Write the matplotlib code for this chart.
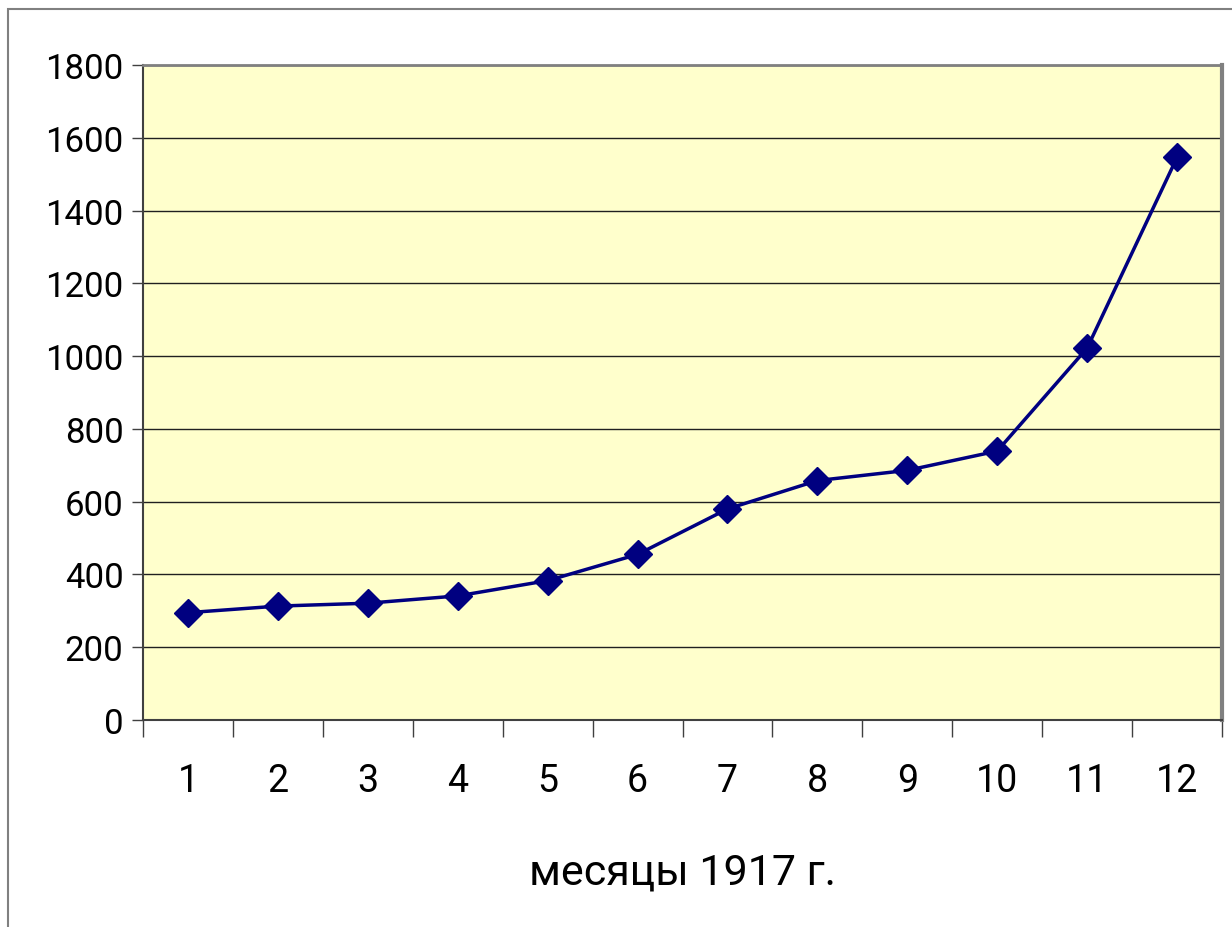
import matplotlib.pyplot as plt
from matplotlib.patches import Rectangle

months = [1, 2, 3, 4, 5, 6, 7, 8, 9, 10, 11, 12]
values = [295, 313, 321, 341, 383, 455, 580, 658, 686, 739, 1022, 1546]
xLabel = "месяцы 1917 г."

plt.rcParams['font.family'] = ['Roboto', 'DejaVu Sans']

fig = plt.figure(figsize=(12.32, 9.28), dpi=100)
fig.patches.append(Rectangle((8/1232, -0.01), 1.02, 1 - 10/928 + 0.01, transform=fig.transFigure,
                             fill=False, edgecolor='#808080', linewidth=1.5))

ax = fig.add_axes([143/1232, 1 - 721/928, (1222-143)/1232, (721-66)/928])
ax.set_facecolor('#FFFFCC')

x = [m - 0.5 for m in months]
ax.plot(x, values, color='#000080', linewidth=2.5, marker='D', markersize=14, zorder=3)

ax.set_xlim(0, 12)
ax.set_ylim(0, 1800)
ax.set_yticks(range(0, 1801, 200))
ax.yaxis.grid(True, color='#202020', linewidth=1)
ax.set_axisbelow(True)

ax.set_xticks(range(0, 13))
ax.set_xticklabels([])
ax.set_xticks(x, minor=True)
ax.set_xticklabels([str(m) for m in months], minor=True)
ax.tick_params(axis='x', which='major', length=12, width=1, direction='out', color='#404040')
ax.tick_params(axis='x', which='minor', length=0, pad=30, labelsize=27)
ax.tick_params(axis='y', length=8, width=1, color='#404040', labelsize=25, pad=6)

for side in ['left', 'bottom']:
    ax.spines[side].set_color('#404040')
    ax.spines[side].set_linewidth(1.5)
ax.spines['top'].set_color('#808080')
ax.spines['top'].set_linewidth(2)
ax.spines['right'].set_color('#808080')
ax.spines['right'].set_linewidth(3)

ax.set_xlabel(xLabel, fontsize=31, labelpad=38)

fig.savefig('out.png', dpi=100)
